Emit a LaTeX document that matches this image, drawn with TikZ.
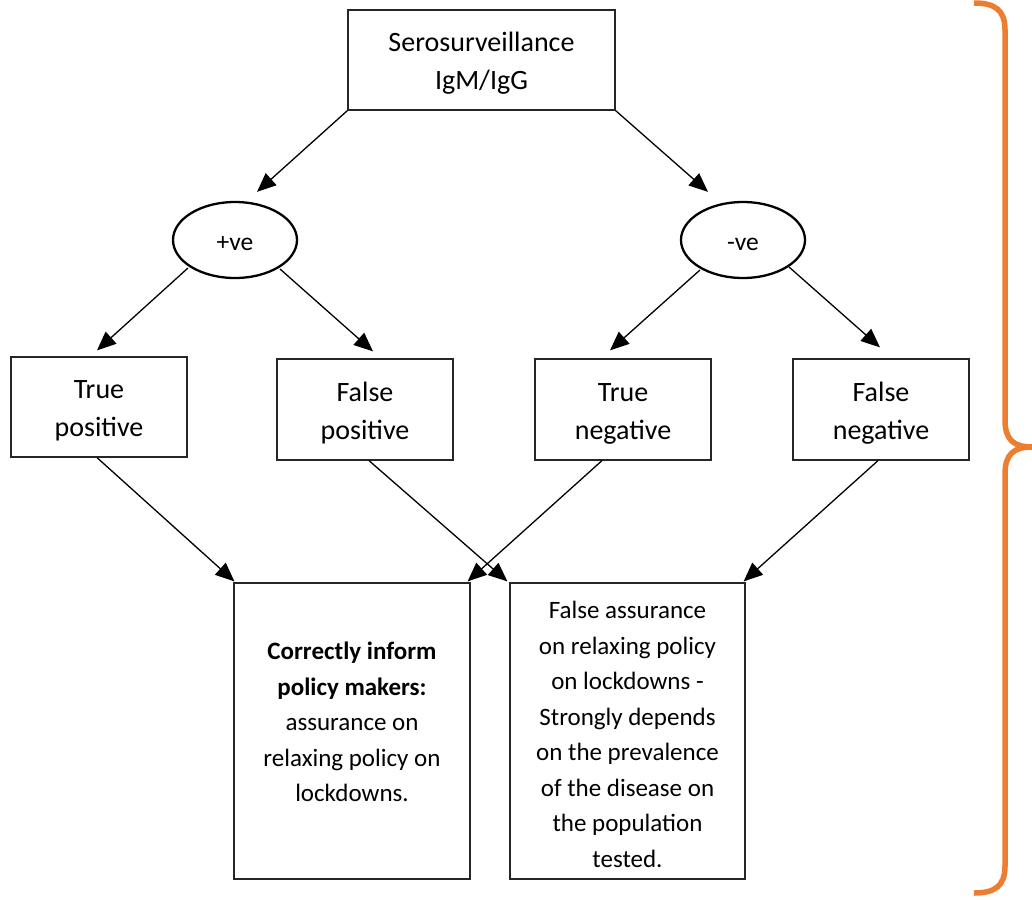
\documentclass[tikz,border=0pt]{standalone}
\usepackage{fontspec}
\setmainfont{Carlito}
\usetikzlibrary{arrows.meta,shapes.geometric}
\definecolor{braceorange}{HTML}{ED7D31}
\newcommand{\tstrut}{\rule{0pt}{26pt}}
\tikzset{
  box/.style={draw=black!85,line width=1.2pt,rectangle,inner sep=0pt,align=center,
    font=\fontsize{28}{38}\selectfont},
  bigbox/.style={draw=black!85,line width=1.2pt,rectangle,inner sep=0pt,align=center,
    minimum width=#1,minimum height=296pt,font=\fontsize{25}{35.5}\selectfont},
  oval/.style={draw=black,line width=2.3pt,ellipse,inner sep=0pt,minimum width=124pt,
    minimum height=76pt,font=\fontsize{25.5}{30}\selectfont},
  arr/.style={line width=1.3pt,-{Triangle[length=19pt,width=16pt]}},
}
\begin{document}
\begin{tikzpicture}[x=1pt,y=-1pt]
\useasboundingbox (0,0) rectangle (1032,899);
\fill[white] (0,0) rectangle (1032,899);

\node[box,minimum width=267pt,minimum height=100pt] (top) at (481.5,60) {\tstrut Serosurveillance\\IgM/IgG};
\node[oval] (pos) at (235,240) {\rule{0pt}{22pt}+ve};
\node[oval] (neg) at (743,240) {\rule{0pt}{22pt}-ve};
\node[box,minimum width=176pt,minimum height=100pt] (tp) at (99,407) {\tstrut True\\positive};
\node[box,minimum width=176pt,minimum height=101pt] (fp) at (365,409.5) {\tstrut False\\positive};
\node[box,minimum width=176pt,minimum height=101pt] (tn) at (623,409.5) {\tstrut True\\negative};
\node[box,minimum width=176pt,minimum height=101pt] (fn) at (881,409.5) {\tstrut False\\negative};
\node[bigbox=236pt] (bl) at (352,731) {\textbf{Correctly inform}\\\textbf{policy makers:}\\assurance on\\relaxing policy on\\lockdowns.\\[-17.5pt]\mbox{}};
\node[bigbox=235pt] (br) at (627.5,731) {\rule{0pt}{24pt}False assurance\\on relaxing policy\\on lockdowns -\\Strongly depends\\on the prevalence\\of the disease on\\the population\\tested.};

\draw[arr] (top.south west) -- ([shift={(22,-9)}]pos.north);
\draw[arr] (top.south east) -- ([shift={(-35,-9)}]neg.north);
\draw[arr] ([shift={(-47,28)}]pos.center) -- ([shift={(-2,-6)}]tp.north);
\draw[arr] ([shift={(45,29)}]pos.center) -- ([shift={(8,-7)}]fp.north);
\draw[arr] ([shift={(-43,30)}]neg.center) -- ([shift={(-13,-8)}]tn.north);
\draw[arr] ([shift={(46,27)}]neg.center) -- ([shift={(-1,-11)}]fn.north);
\draw[arr] ([shift={(-2,0)}]tp.south) -- ([shift={(1,-1)}]bl.north west);
\draw[arr] ([shift={(-21,0)}]tn.south) -- ([shift={(-3,-1)}]bl.north east);
\draw[arr] ([shift={(4,0)}]fp.south) -- ([shift={(-2,-1)}]br.north west);
\draw[arr] ([shift={(-3,0)}]fn.south) -- ([shift={(-2,-1)}]br.north east);

\draw[braceorange,line width=5.5pt,line cap=butt]
  (974,3) .. controls (995,3) and (1005,10) .. (1005,30)
  -- (1005,420) .. controls (1005,440) and (1014,447) .. (1032,447)
  .. controls (1014,447) and (1005,454) .. (1005,474)
  -- (1005,866) .. controls (1005,886) and (995,893) .. (974,893);
\end{tikzpicture}
\end{document}
